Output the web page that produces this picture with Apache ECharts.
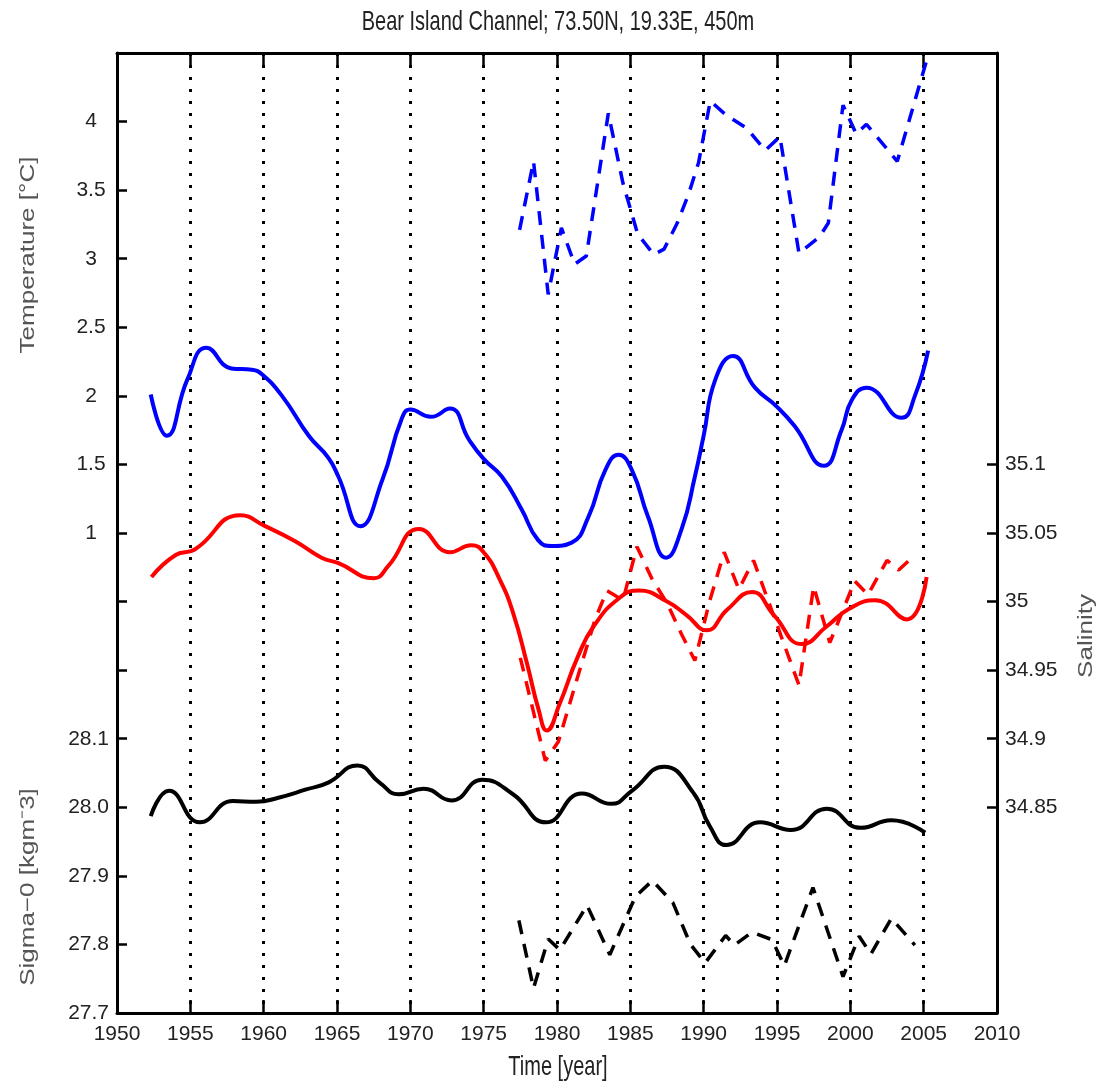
<!DOCTYPE html>
<html><head><meta charset="utf-8">
<script src="https://cdn.jsdelivr.net/npm/echarts@6/dist/echarts.min.js"></script>
<style>html,body{margin:0;padding:0;background:#fff}#c{width:1096px;height:1085px}</style>
</head><body><div id="c"></div>
<script>
// ---- tick labels ----
const tempTickLabels = [1, 1.5, 2, 2.5, 3, 3.5, 4];
const sigmaTickLabels = [27.7, 27.8, 27.9, 28.0, 28.1];
const salTickLabels = [34.85, 34.9, 34.95, 35, 35.05, 35.1];

// ---- temperature, smoothed (solid blue) ----
const tempSmoothYears = [1952.3,1953.4,1954.8,1956.1,1957.8,1959.2,1959.9,1961.25,1963.1,1964.4,1965.1,1966.6,1968.1,1969.4,1970.0,1971.4,1972.7,1974.0,1975.0,1976.25,1977.6,1978.7,1979.65,1981.0,1982.15,1983.3,1984.2,1985.1,1986.2,1987.45,1988.5,1989.4,1990.0,1990.8,1992.0,1993.5,1995.0,1996.2,1998.2,1999.4,2000.1,2001.1,2003.5,2004.4,2005.3];
const tempSmooth = [2.01,1.71,2.12,2.35,2.20,2.19,2.155,2.0,1.705,1.55,1.41,1.05,1.39,1.83,1.90,1.847,1.907,1.68,1.54,1.41,1.17,0.95,0.905,0.93,1.12,1.46,1.57,1.46,1.12,0.82,1.03,1.41,1.71,2.12,2.29,2.06,1.92,1.78,1.49,1.75,1.97,2.06,1.84,2.0,2.33];

// ---- temperature, annual (dashed blue) ----
const tempAnnualYears = [1977.45,1978.4,1979.4,1980.3,1981.2,1982.0,1983.5,1984.5,1985.5,1986.6,1987.3,1988.2,1989.0,1989.65,1990.45,1991.5,1992.95,1994.2,1995.2,1996.5,1997.9,1998.5,1999.5,2000.4,2001.1,2003.2,2005.35];
const tempAnnual = [3.21,3.71,2.74,3.225,2.96,3.02,4.06,3.55,3.18,3.03,3.07,3.26,3.48,3.70,4.15,4.05,3.95,3.79,3.89,3.04,3.16,3.26,4.12,3.91,3.98,3.71,4.5];

// ---- salinity, smoothed (solid red) ----
const salSmoothYears = [1952.35,1954.0,1955.3,1958.4,1960.1,1962.15,1963.95,1965.1,1967.5,1968.5,1970.6,1972.7,1974.15,1975.0,1976.1,1977.0,1977.95,1978.75,1979.3,1980.2,1981.35,1982.5,1984.3,1985.6,1987.5,1988.85,1990.2,1991.6,1993.3,1994.8,1996.7,1998.4,1999.95,2001.7,2003.85,2005.2];
const salSmooth = [35.018,35.034,35.038,35.063,35.055,35.044,35.032,35.028,35.017,35.026,35.053,35.036,35.041,35.036,35.016,34.992,34.955,34.921,34.906,34.926,34.958,34.982,35.003,35.008,35.0,34.99,34.979,34.994,35.007,34.99,34.969,34.982,34.995,35.001,34.987,35.018];

// ---- salinity, annual (dashed red) ----
const salAnnualYears = [1977.5,1979.2,1980.1,1981.35,1982.6,1983.4,1984.5,1985.45,1986.5,1987.5,1988.5,1989.4,1990.4,1991.4,1992.4,1993.4,1996.5,1997.5,1998.6,2000.3,2001.2,2002.5,2003.3,2004.1];
const salAnnual = [34.959,34.884,34.898,34.943,34.987,35.008,35.001,35.04,35.016,34.999,34.976,34.957,35.0,35.036,35.009,35.03,34.939,35.011,34.97,35.015,35.005,35.03,35.023,35.031];

// ---- sigma-0, smoothed (solid black) ----
const sigSmoothYears = [1952.3,1953.55,1955.65,1957.9,1959.5,1961.0,1962.9,1964.4,1966.4,1967.9,1969.2,1970.9,1972.8,1974.9,1977.0,1979.25,1981.7,1983.7,1985.1,1987.3,1989.3,1990.4,1991.55,1993.85,1995.95,1998.4,2000.7,2002.8,2005.1];
const sigSmooth = [27.987,28.024,27.978,28.009,28.008,28.014,28.026,28.036,28.061,28.036,28.019,28.027,28.01,28.04,28.019,27.978,28.02,28.005,28.024,28.059,28.021,27.973,27.945,27.978,27.967,27.998,27.970,27.981,27.963];

// ---- sigma-0, annual (dashed black) ----
const sigAnnualYears = [1977.4,1978.4,1979.4,1980.2,1982.05,1983.6,1985.35,1986.5,1987.9,1989.1,1990.1,1991.5,1992.1,1993.3,1994.65,1995.5,1997.45,1999.5,2000.6,2001.4,2002.8,2004.4];
const sigAnnual = [27.835,27.736,27.808,27.792,27.857,27.785,27.870,27.893,27.861,27.800,27.773,27.813,27.799,27.818,27.807,27.769,27.883,27.753,27.812,27.786,27.838,27.799];

const zip = (xs, ys) => xs.map((x, i) => [x, ys[i]]);

const FONT = '"Liberation Sans", Arial, sans-serif';
const LBL = {fontSize: 21, fontFamily: FONT, color: '#222'};
const AXLINE = {show: true, onZero: false, lineStyle: {color: '#000', width: 3}};

const chart = echarts.init(document.getElementById('c'), null, {renderer: 'canvas'});
chart.setOption({
  animation: false,
  backgroundColor: '#fff',
  grid: {left: 117, right: 99, top: 53, bottom: 72, containLabel: false},
  xAxis: [
    {type: 'value', position: 'bottom', min: 1950, max: 2010, interval: 5,
     axisLine: AXLINE,
     axisTick: {inside: true, length: 13, lineStyle: {color: '#000', width: 2.5}},
     axisLabel: Object.assign({margin: 11, formatter: v => String(v)}, LBL),
     splitLine: {show: true, lineStyle: {color: '#000', width: 3, type: [3, 9]}}},
    {type: 'value', position: 'top', min: 1950, max: 2010, interval: 5,
     axisLine: AXLINE,
     axisTick: {inside: true, length: 13, lineStyle: {color: '#000', width: 2.5}},
     axisLabel: {show: false}, splitLine: {show: false}}
  ],
  yAxis: [
    {type: 'value', position: 'left', min: -2.5, max: 4.5, interval: 0.5,
     axisLine: AXLINE,
     axisTick: {inside: true, length: 10, lineStyle: {color: '#000', width: 2.5}},
     axisLabel: Object.assign({customValues: tempTickLabels, margin: 26, align: 'center'}, LBL),
     splitLine: {show: false}},
    {type: 'value', position: 'left', min: 27.7, max: 29.1, interval: 0.1,
     axisLine: {show: false, onZero: false}, axisTick: {show: false},
     axisLabel: Object.assign({customValues: sigmaTickLabels, margin: 8,
       formatter: v => v.toFixed(1)}, LBL),
     splitLine: {show: false}},
    {type: 'value', position: 'right', min: 34.7, max: 35.4, interval: 0.05,
     axisLine: AXLINE,
     axisTick: {inside: true, length: 10, customValues: salTickLabels, lineStyle: {color: '#000', width: 2.5}},
     axisLabel: Object.assign({customValues: salTickLabels, margin: 8}, LBL),
     splitLine: {show: false}}
  ],
  graphic: [
    {type: 'text', x: 558, y: 23, scaleY: 1.35, style: {text: 'Bear Island Channel; 73.50N, 19.33E, 450m', fontSize: 20, fontFamily: FONT, fill: '#222', align: 'center', verticalAlign: 'middle'}},
    {type: 'text', x: 28, y: 255, rotation: Math.PI / 2, scaleX: 1.3, style: {text: 'Temperature [°C]', fontSize: 20, fontFamily: FONT, fill: '#555', align: 'center', verticalAlign: 'middle'}},
    {type: 'text', x: 28, y: 887, rotation: Math.PI / 2, scaleX: 1.3, style: {text: 'Sigma\u22120 [kgm\u207B3]', fontSize: 20, fontFamily: FONT, fill: '#555', align: 'center', verticalAlign: 'middle'}},
    {type: 'text', x: 1086, y: 636, rotation: Math.PI / 2, scaleX: 1.3, style: {text: 'Salinity', fontSize: 20, fontFamily: FONT, fill: '#555', align: 'center', verticalAlign: 'middle'}},
    {type: 'text', x: 558, y: 1068, scaleY: 1.35, style: {text: 'Time [year]', fontSize: 20, fontFamily: FONT, fill: '#222', align: 'center', verticalAlign: 'middle'}}
  ],
  series: [
    {name: 'T smooth', type: 'line', xAxisIndex: 0, yAxisIndex: 0, data: zip(tempSmoothYears, tempSmooth),
     smooth: 0.5, showSymbol: false, symbol: 'none', lineStyle: {color: '#0000ff', width: 4}},
    {name: 'T annual', type: 'line', xAxisIndex: 0, yAxisIndex: 0, data: zip(tempAnnualYears, tempAnnual),
     showSymbol: false, symbol: 'none', lineStyle: {color: '#0000ff', width: 3.5, type: [14, 10]}},
    {name: 'S smooth', type: 'line', xAxisIndex: 0, yAxisIndex: 2, data: zip(salSmoothYears, salSmooth),
     smooth: 0.5, showSymbol: false, symbol: 'none', lineStyle: {color: '#ff0000', width: 4}},
    {name: 'S annual', type: 'line', xAxisIndex: 0, yAxisIndex: 2, data: zip(salAnnualYears, salAnnual),
     showSymbol: false, symbol: 'none', lineStyle: {color: '#ff0000', width: 3.5, type: [14, 10]}},
    {name: 'Sigma smooth', type: 'line', xAxisIndex: 0, yAxisIndex: 1, data: zip(sigSmoothYears, sigSmooth),
     smooth: 0.5, showSymbol: false, symbol: 'none', lineStyle: {color: '#000', width: 4}},
    {name: 'Sigma annual', type: 'line', xAxisIndex: 0, yAxisIndex: 1, data: zip(sigAnnualYears, sigAnnual),
     showSymbol: false, symbol: 'none', lineStyle: {color: '#000', width: 3.5, type: [14, 10]}}
  ]
});
</script></body></html>
